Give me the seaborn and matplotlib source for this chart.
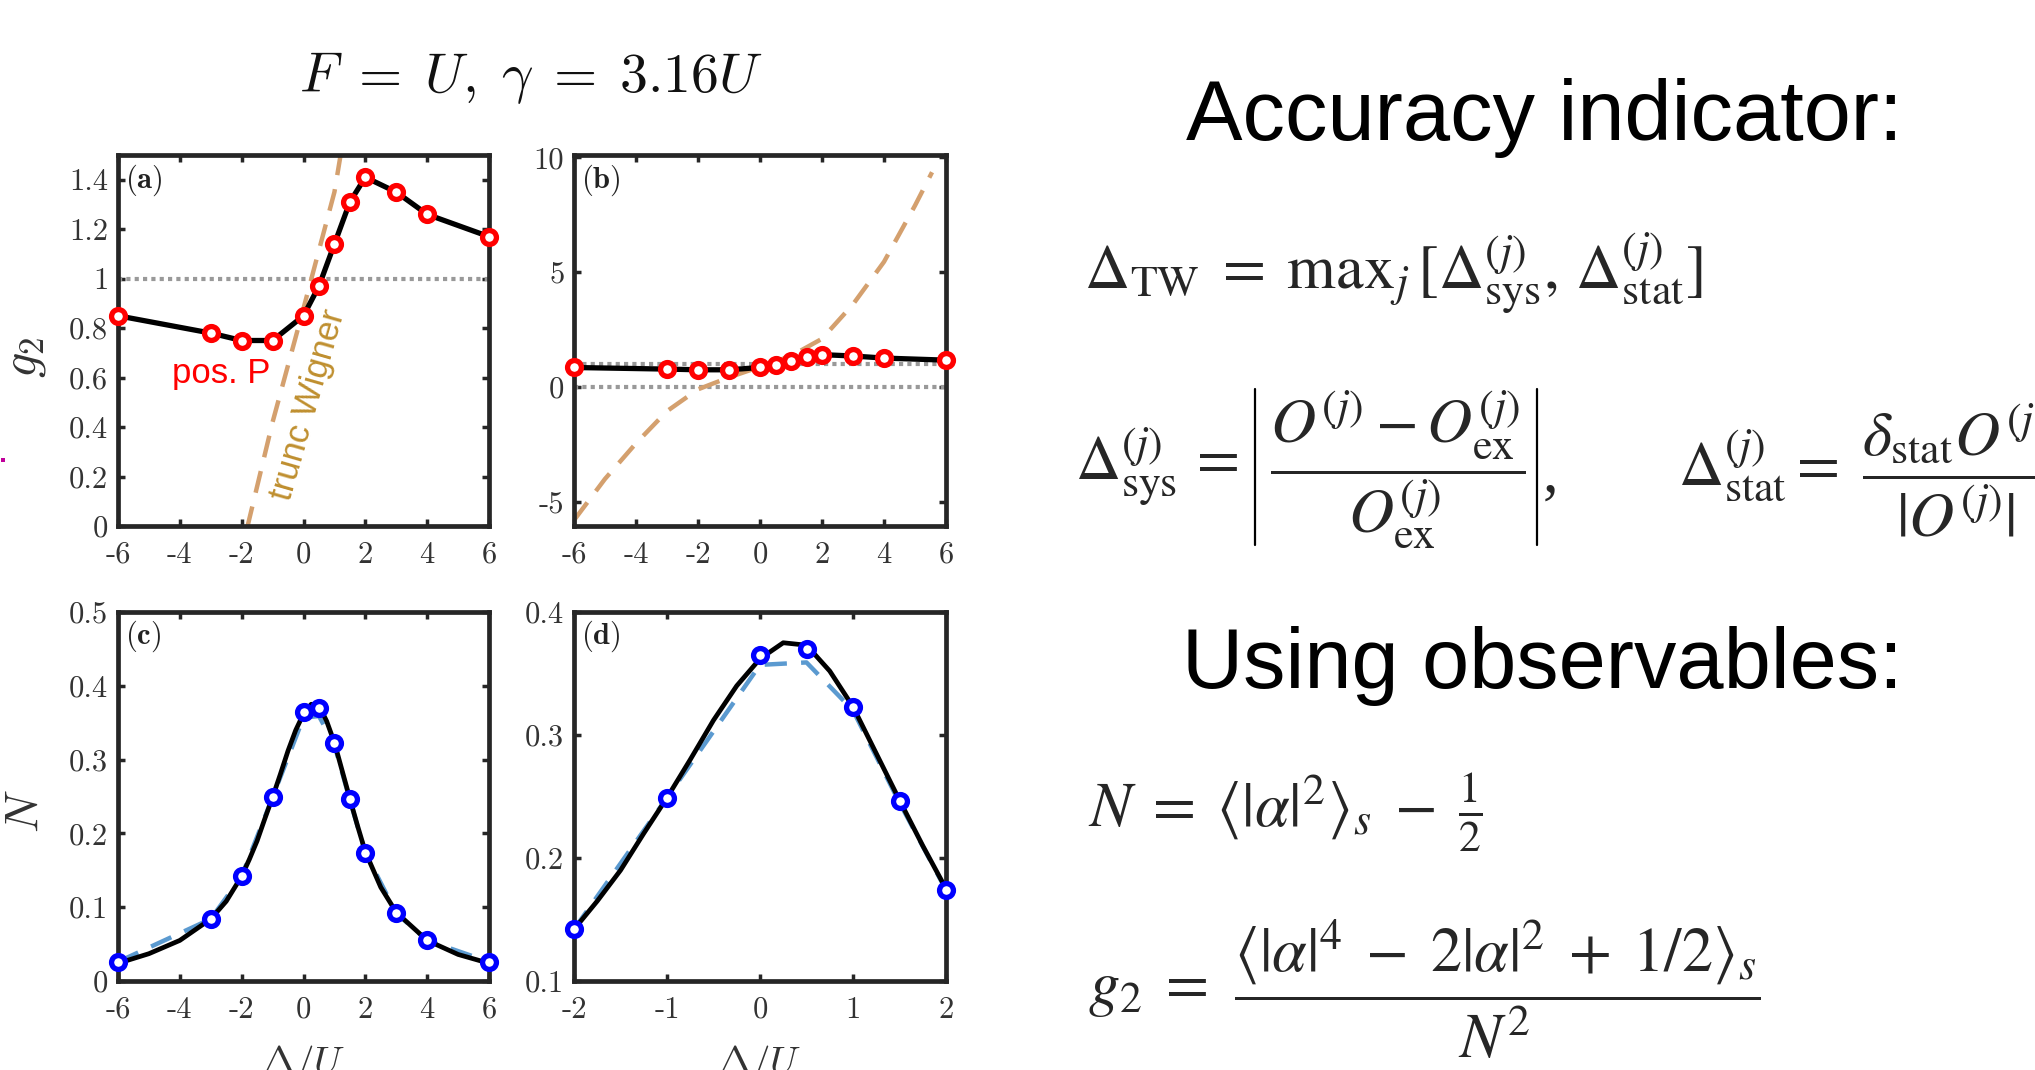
import numpy as np
import pandas as pd
import matplotlib
matplotlib.use("Agg")
import matplotlib.pyplot as plt
import matplotlib.patches as mpatches
from matplotlib.lines import Line2D
import seaborn as sns

# ---------------- data ----------------
delta_pts = [-6, -3, -2, -1, 0, 0.5, 1, 1.5, 2, 3, 4, 6]
g2_posP = [0.85, 0.78, 0.75, 0.75, 0.85, 0.97, 1.14, 1.31, 1.41, 1.35, 1.26, 1.17]

delta_tw = [-6, -5, -4, -3, -2, -1, 0, 1, 2, 3, 4, 5, 5.55]
g2_tw = [-5.8, -4.0, -2.45, -1.05, -0.1, 0.42, 0.88, 1.35, 2.1, 3.6, 5.45, 7.9, 9.35]

N_posP = [0.026, 0.084, 0.142, 0.249, 0.365, 0.370, 0.323, 0.246, 0.174, 0.092, 0.055, 0.026]
N_tw = [0.026, 0.084, 0.142, 0.249, 0.357, 0.359, 0.320, 0.245, 0.174, 0.092, 0.055, 0.026]

delta_exact = [-6, -5, -4, -3, -2.5, -2, -1.75, -1.5, -1.25, -1, -0.75, -0.5, -0.25,
               0, 0.25, 0.5, 0.75, 1, 1.25, 1.5, 1.75, 2, 2.5, 3, 4, 5, 6]
N_exact = [0.024, 0.037, 0.055, 0.084, 0.108, 0.142, 0.165, 0.19, 0.22, 0.249, 0.28,
           0.312, 0.34, 0.362, 0.375, 0.373, 0.352, 0.323, 0.285, 0.247, 0.21, 0.175,
           0.127, 0.093, 0.055, 0.036, 0.024]

xticks_wide = [-6, -4, -2, 0, 2, 4, 6]
xticks_narrow = [-2, -1, 0, 1, 2]
yticks_a = [0, 0.2, 0.4, 0.6, 0.8, 1, 1.2, 1.4]
ylabels_a = ["0", "0.2", "0.4", "0.6", "0.8", "1", "1.2", "1.4"]
yticks_b = [-5, 0, 5, 10]
yticks_c = [0, 0.1, 0.2, 0.3, 0.4, 0.5]
ylabels_c = ["0", "0.1", "0.2", "0.3", "0.4", "0.5"]
yticks_d = [0.1, 0.2, 0.3, 0.4]

df_pts = pd.DataFrame({"delta": delta_pts, "g2": g2_posP, "N": N_posP, "Ntw": N_tw})
df_tw = pd.DataFrame({"delta": delta_tw, "g2": g2_tw})
df_ex = pd.DataFrame({"delta": delta_exact, "N": N_exact})

# ---------------- style ----------------
sns.set_theme(style="white")
plt.rcParams["font.family"] = ["DejaVu Sans"]
plt.rcParams["axes.unicode_minus"] = False

W, H = 2035, 1070
fig = plt.figure(figsize=(W / 100, H / 100), dpi=100)
fig.patch.set_facecolor("white")

SPINE = "#262626"
TICKLAB = "#333333"
TAN = "#D4A06E"
LBLUE = "#5B9AD0"
TICKFS = 22


def rect(x0, y0, x1, y1):
    return [x0 / W, 1 - y1 / H, (x1 - x0) / W, (y1 - y0) / H]


def fx(px):
    return px / W


def fy(py):
    return 1 - py / H


ax_a = fig.add_axes(rect(118, 155, 489, 526))
ax_b = fig.add_axes(rect(574, 155, 946, 526))
ax_c = fig.add_axes(rect(118, 612, 489, 981))
ax_d = fig.add_axes(rect(574, 612, 946, 981))


def style_axes(ax, xt, xl, yt, yl, xlim, ylim):
    ax.set_xlim(*xlim)
    ax.set_ylim(*ylim)
    ax.set_xticks(xt)
    ax.set_xticklabels(xl, family="cmr10", fontsize=TICKFS, color=TICKLAB)
    ax.set_yticks(yt)
    ax.set_yticklabels(yl, family="cmr10", fontsize=TICKFS, color=TICKLAB)
    for s in ax.spines.values():
        s.set_linewidth(3.4)
        s.set_color(SPINE)
        s.set_visible(True)
    ax.tick_params(direction="in", length=5, width=2.5, color=SPINE,
                   top=True, right=True, bottom=True, left=True)
    ax.tick_params(axis="x", pad=11)
    ax.tick_params(axis="y", pad=7)
    ax.grid(False)
    ax.set_xlabel("")
    ax.set_ylabel("")


def panel_label(ax, s):
    ax.text(0.02, 0.933, r"$\mathbf{(" + s + r")}$", transform=ax.transAxes,
            fontsize=22, math_fontfamily="cm", va="center", ha="left",
            color="#222222")


def draw_g2(ax):
    sns.lineplot(data=df_tw, x="delta", y="g2", ax=ax, color=TAN, lw=3.2,
                 linestyle=(0, (5, 3.2)), estimator=None, sort=False, zorder=2)
    sns.lineplot(data=df_pts, x="delta", y="g2", ax=ax, color="black", lw=3.8,
                 estimator=None, sort=False, zorder=3)
    sns.scatterplot(data=df_pts, x="delta", y="g2", ax=ax, marker="o", s=100,
                    color="white", edgecolor="red", linewidth=3.8, zorder=5,
                    clip_on=False)


# (a)
ax_a.axhline(1, color="#999999", lw=3, linestyle=(0, (1, 1)), zorder=1)
draw_g2(ax_a)
style_axes(ax_a, xticks_wide, [str(v) for v in xticks_wide], yticks_a, ylabels_a,
           (-6, 6), (0, 1.5))
panel_label(ax_a, "a")
ax_a.text(-2.67, 0.615, "pos. P", color="red", fontsize=25, family="Liberation Sans",
          ha="center", va="center")
ax_a.text(0.15, 0.49, "trunc Wigner", color="#BF8F2F", fontsize=25,
          family="Liberation Sans", rotation=74, ha="center", va="center",
          rotation_mode="anchor")
ax_a.set_ylabel(r"$g_2$", fontsize=36, math_fontfamily="cm", color="#333333")
ax_a.yaxis.set_label_coords(-0.19, 0.455)

# (b)
ax_b.axhline(1, color="#999999", lw=3, linestyle=(0, (1, 1)), zorder=1)
ax_b.axhline(0, color="#999999", lw=3, linestyle=(0, (1, 1)), zorder=1)
draw_g2(ax_b)
style_axes(ax_b, xticks_wide, [str(v) for v in xticks_wide], yticks_b,
           [str(v) for v in yticks_b], (-6, 6), (-6.05, 10.1))
panel_label(ax_b, "b")

# (c)
sns.lineplot(data=df_pts, x="delta", y="Ntw", ax=ax_c, color=LBLUE, lw=3.2,
             linestyle=(0, (5, 3.2)), estimator=None, sort=False, zorder=2)
sns.lineplot(data=df_ex, x="delta", y="N", ax=ax_c, color="black", lw=3.4,
             estimator=None, sort=False, zorder=3)
sns.scatterplot(data=df_pts, x="delta", y="N", ax=ax_c, marker="o", s=100,
                color="white", edgecolor="blue", linewidth=3.8, zorder=5, clip_on=False)
style_axes(ax_c, xticks_wide, [str(v) for v in xticks_wide], yticks_c, ylabels_c,
           (-6, 6), (0, 0.5))
panel_label(ax_c, "c")
ax_c.set_ylabel(r"$N$", fontsize=34, math_fontfamily="cm", color="#333333")
ax_c.yaxis.set_label_coords(-0.19, 0.46)
ax_c.set_xlabel(r"$\Delta/U$", fontsize=28, math_fontfamily="cm", color="#333333",
                labelpad=14)

# (d)
df_pts_d = df_pts[(df_pts["delta"] >= -2) & (df_pts["delta"] <= 2)]
sns.lineplot(data=df_pts_d, x="delta", y="Ntw", ax=ax_d, color=LBLUE, lw=3.2,
             linestyle=(0, (5, 3.2)), estimator=None, sort=False, zorder=2)
sns.lineplot(data=df_ex, x="delta", y="N", ax=ax_d, color="black", lw=3.4,
             estimator=None, sort=False, zorder=3)
sns.scatterplot(data=df_pts_d, x="delta", y="N", ax=ax_d, marker="o", s=100,
                color="white", edgecolor="blue", linewidth=3.8, zorder=5, clip_on=False)
style_axes(ax_d, xticks_narrow, [str(v) for v in xticks_narrow], yticks_d,
           [str(v) for v in yticks_d], (-2, 2), (0.1, 0.4))
panel_label(ax_d, "d")
ax_d.set_xlabel(r"$\Delta/U$", fontsize=28, math_fontfamily="cm", color="#333333",
                labelpad=14)

# title over the plot grid
fig.text(fx(531), fy(78), r"$F\;=\;U,\;\gamma\;=\;3.16U$", fontsize=40,
         math_fontfamily="cm", ha="center", va="center", color="#111111")

# small magenta speck at the far left
fig.add_artist(mpatches.Rectangle((fx(1), fy(462)), 4 / W, 4 / H,
                                  transform=fig.transFigure, color="#C0009A", lw=0))

# ---------------- right-hand text ----------------
fig.text(fx(1544), fy(140), "Accuracy indicator:", fontsize=61,
         family="Liberation Sans", ha="center", va="baseline", color="black")
fig.text(fx(1542), fy(688), "Using observables:", fontsize=61,
         family="Liberation Sans", ha="center", va="baseline", color="black")

MFS = 45
fig.text(fx(1084), fy(288),
         r"$\Delta_{\mathrm{TW}}\;=\;\mathrm{max}_j\,[\Delta^{(j)}_{\mathrm{sys}},\, \Delta^{(j)}_{\mathrm{stat}}]$",
         fontsize=MFS, math_fontfamily="stix", ha="left", va="baseline")

# Delta_sys with thin absolute-value bars
fig.text(fx(1075), fy(466), r"$\Delta^{(j)}_{\mathrm{sys}}\,=$",
         fontsize=MFS, math_fontfamily="stix", ha="left", va="center")
fig.text(fx(1398), fy(470),
         r"$\dfrac{O^{(j)} - O^{(j)}_{\mathrm{ex}}}{O^{(j)}_{\mathrm{ex}}}$",
         fontsize=MFS, math_fontfamily="stix", ha="center", va="center")
for xb in (1255, 1537):
    fig.add_artist(Line2D([fx(xb), fx(xb)], [fy(389), fy(545)], color="black",
                          lw=1.6, transform=fig.transFigure))
fig.text(fx(1543), fy(492), ",", fontsize=MFS, family="Liberation Serif",
         ha="left", va="baseline")

fig.text(fx(1678), fy(466), r"$\Delta^{(j)}_{\mathrm{stat}}=$",
         fontsize=MFS, math_fontfamily="stix", ha="left", va="center")
fig.text(fx(1862), fy(470),
         r"$\dfrac{\delta_{\mathrm{stat}}O^{(j)}}{|O^{(j)}|}$",
         fontsize=MFS, math_fontfamily="stix", ha="left", va="center")

fig.text(fx(1088), fy(827),
         r"$N\;=\;\langle|\alpha|^2\rangle_s\;-\;\frac{1}{2}$",
         fontsize=MFS, math_fontfamily="stix", ha="left", va="baseline")

fig.text(fx(1088), fy(1004), r"$g_2\;=$",
         fontsize=MFS, math_fontfamily="stix", ha="left", va="baseline")
fig.text(fx(1497), fy(989),
         r"$\dfrac{\langle|\alpha|^4\;-\;2|\alpha|^2\;+\;1/2\rangle_s}{N^2}$",
         fontsize=MFS, math_fontfamily="stix", ha="center", va="center")

fig.savefig("out.png", dpi=100, facecolor="white")
